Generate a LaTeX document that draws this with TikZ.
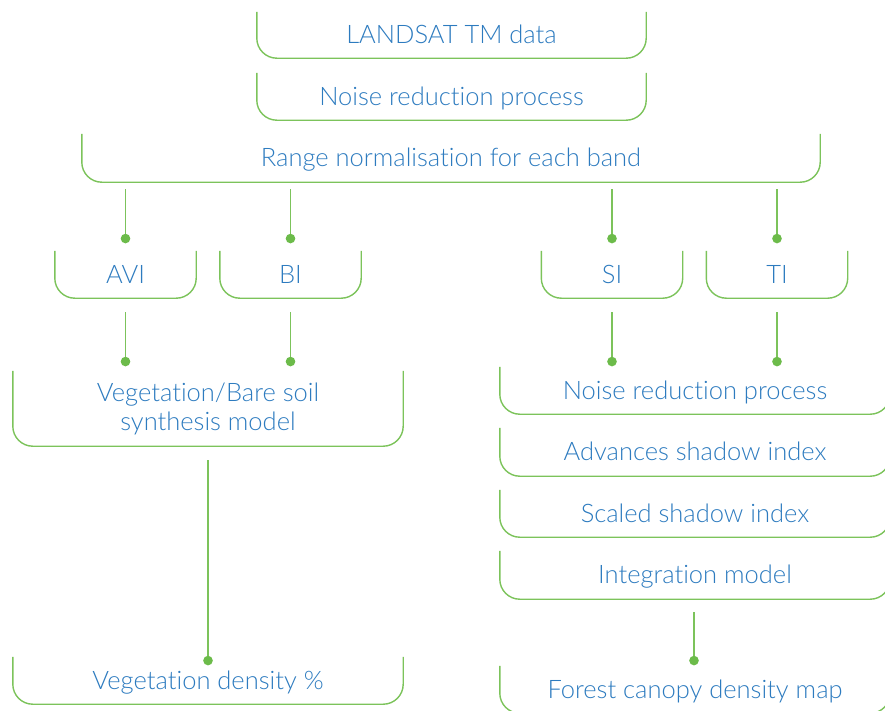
\documentclass[tikz,border=0pt]{standalone}
\usepackage{fontspec}
\setmainfont{Lato}[UprightFont={* Light}, Ligatures={NoCommon,NoRare}]
\usetikzlibrary{arrows.meta,calc}
\definecolor{lineg}{HTML}{7CC35B}
\definecolor{dotg}{HTML}{6CBB4A}
\definecolor{textb}{HTML}{2D7BBF}
\tikzset{
  ubox/.style={inner sep=0pt, text=textb, font=\fontsize{25.5}{30}\selectfont, align=center},
  oneline/.style={ubox, text height=19pt, text depth=2pt},
  uline/.style={draw=lineg, line width=1.4pt, rounded corners=20pt},
  link/.style={draw=lineg, line width=1.4pt, -{Circle[length=9.5pt,fill=dotg,color=dotg]}},
}
% open-topped box: two sides and a rounded bottom edge
\newcommand{\ushape}[1]{\draw[uline] (#1.north west) -- (#1.south west) -- (#1.south east) -- (#1.north east);}
\begin{document}
\begin{tikzpicture}[x=1pt,y=-1pt]
\useasboundingbox (0,0) rectangle (885,710);
\clip (0,0) rectangle (885,710);

% top chain
\node[oneline, minimum width=389pt, minimum height=46pt] (land) at (451.5,35) {LANDSAT TM data};
\node[oneline, minimum width=389pt, minimum height=47pt] (noise) at (451.5,96.5) {Noise reduction process};
\node[oneline, minimum width=738pt, minimum height=48pt] (range) at (451,158) {Range normalisation for each band};

% indices
\node[oneline, minimum width=141pt, minimum height=47pt] (avi) at (125.5,274.5) {AVI};
\node[oneline, minimum width=141pt, minimum height=47pt] (bi) at (290.5,274.5) {BI};
\node[oneline, minimum width=141pt, minimum height=47pt] (si) at (612,274.5) {SI};
\node[oneline, minimum width=141pt, minimum height=47pt] (ti) at (777,274.5) {TI};

% vegetation branch
\node[ubox, minimum width=390pt, minimum height=75pt] (veg) at (208,408.5) {Vegetation/Bare soil\\[-1pt]synthesis model};
\node[oneline, minimum width=390pt, minimum height=47pt] (dens) at (208,680.5) {Vegetation density \%};

% shadow branch
\node[oneline, minimum width=390pt, minimum height=47pt] (rnoise) at (695,390.5) {Noise reduction process};
\node[oneline, minimum width=390pt, minimum height=48pt] (adv) at (695,452) {Advances shadow index};
\node[oneline, minimum width=390pt, minimum height=47pt] (scaled) at (695,513.5) {Scaled shadow index};
\node[oneline, minimum width=390pt, minimum height=48pt] (integ) at (695,575) {Integration model};
\node[oneline, minimum width=390pt, minimum height=47pt] (forest) at (695,689.5) {Forest canopy density map};

\foreach \n in {land,noise,range,avi,bi,si,ti,veg,dens,rnoise,adv,scaled,integ,forest} {\ushape{\n}}

% connectors
\foreach \n in {avi,bi,si,ti}
  \draw[link] ([yshift=-7pt]range.south -| \n.north) -- ([yshift=7.5pt]\n.north);
\foreach \n in {avi,bi}
  \draw[link] ([yshift=-14pt]\n.south) -- ([yshift=4.5pt]veg.north -| \n.south);
\foreach \n in {si,ti}
  \draw[link] ([yshift=-14pt]\n.south) -- ([yshift=0.5pt]rnoise.north -| \n.south);
\draw[link] ([yshift=-14pt]veg.south) -- ([yshift=-8.5pt]dens.north);
\draw[link] ([yshift=-13pt]integ.south -| 694,0) -- ([yshift=0.5pt]forest.north -| 694,0);
\end{tikzpicture}
\end{document}
